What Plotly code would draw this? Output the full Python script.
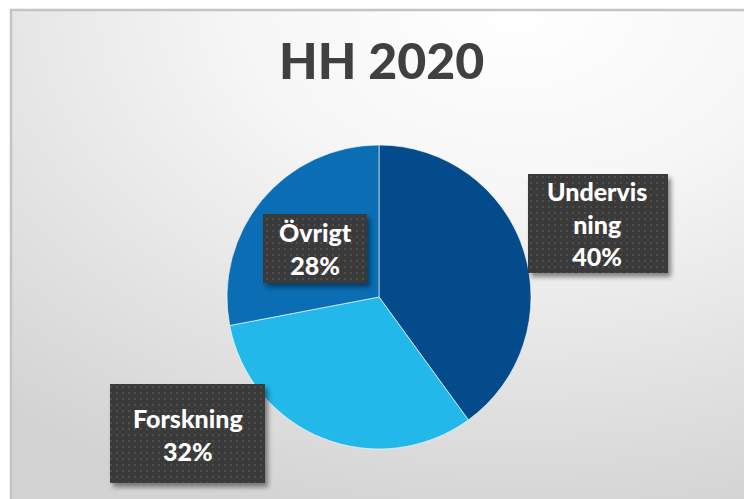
import base64
import plotly.graph_objects as go

# ---- data ----
categories = ["Undervisning", "Forskning", "Övrigt"]
shares = [40, 32, 28]
label_lines = [["Undervis", "ning", "40%"], ["Forskning", "32%"], ["Övrigt", "28%"]]
colors = ["#034b8a", "#22b8e9", "#0b6db4"]
title_text = "HH 2020"

W, H = 744, 499

# ---- background (gradient + frame) as SVG ----
bg_svg = f'''<svg xmlns="http://www.w3.org/2000/svg" width="{W}" height="{H}" viewBox="0 0 {W} {H}" preserveAspectRatio="none">
<defs>
<radialGradient id="g" cx="0.68" cy="0.0" r="1.05" fx="0.68" fy="0.0">
<stop offset="0" stop-color="#ffffff"/>
<stop offset="0.35" stop-color="#f6f6f6"/>
<stop offset="1" stop-color="#d3d3d3"/>
</radialGradient>
</defs>
<rect x="0" y="0" width="{W}" height="{H}" fill="#ffffff"/>
<rect x="11" y="10" width="{W}" height="{H}" fill="url(#g)" stroke="#c4c4c4" stroke-width="2.5"/>
</svg>'''

# label boxes (x0, y0, x1, y1) in pixels
boxes = [(528, 174, 668, 273), (110, 384, 265, 483), (263, 214, 367, 283)]

box_parts = []
for (x0, y0, x1, y1) in boxes:
    box_parts.append(
        f'<rect x="{x0+3}" y="{y0+4}" width="{x1-x0}" height="{y1-y0}" fill="#000" opacity="0.45" filter="url(#blur)"/>'
        f'<rect x="{x0}" y="{y0}" width="{x1-x0}" height="{y1-y0}" fill="url(#dots)"/>'
    )
box_svg = f'''<svg xmlns="http://www.w3.org/2000/svg" width="{W}" height="{H}" viewBox="0 0 {W} {H}" preserveAspectRatio="none">
<defs>
<filter id="blur" x="-20%" y="-20%" width="140%" height="140%"><feGaussianBlur stdDeviation="2.5"/></filter>
<pattern id="dots" x="0" y="0" width="6" height="6" patternUnits="userSpaceOnUse">
<rect width="6" height="6" fill="#3a3a3a"/>
<rect x="2" y="2" width="2" height="2" fill="#4e4e4e"/>
</pattern>
</defs>
{''.join(box_parts)}
</svg>'''


def uri(svg):
    return "data:image/svg+xml;base64," + base64.b64encode(svg.encode("utf-8")).decode("ascii")


fig = go.Figure(
    go.Pie(
        labels=categories,
        values=shares,
        sort=False,
        direction="clockwise",
        rotation=0,
        marker=dict(colors=colors, line=dict(color="rgba(255,255,255,0.6)", width=1)),
        textinfo="none",
        hoverinfo="label+percent",
        showlegend=False,
        domain=dict(x=[227 / W, 531 / W], y=[1 - 449 / H, 1 - 145 / H]),
    )
)

# label block centres (pixels)
label_pos = [(597, 223), (188, 434), (315, 249)]
annotations = []
for lines, (px, py) in zip(label_lines, label_pos):
    annotations.append(
        dict(
            text="<br>".join(lines),
            x=px / W,
            y=1 - py / H,
            xref="paper",
            yref="paper",
            xanchor="center",
            yanchor="middle",
            align="center",
            showarrow=False,
            font=dict(family="Lato", size=25, color="#ffffff", weight=900),
        )
    )

annotations.append(
    dict(
        text=title_text,
        x=381 / W,
        y=1 - 60 / H,
        xref="paper",
        yref="paper",
        xanchor="center",
        yanchor="middle",
        showarrow=False,
        font=dict(family="Lato", size=50, color="#404040", weight=900),
    )
)

fig.update_layout(
    width=W,
    height=H,
    margin=dict(l=0, r=0, t=0, b=0),
    paper_bgcolor="#ffffff",
    plot_bgcolor="rgba(0,0,0,0)",
    images=[
        dict(source=uri(bg_svg), xref="paper", yref="paper", x=0, y=1, sizex=1, sizey=1,
             xanchor="left", yanchor="top", sizing="stretch", layer="below"),
        dict(source=uri(box_svg), xref="paper", yref="paper", x=0, y=1, sizex=1, sizey=1,
             xanchor="left", yanchor="top", sizing="stretch", layer="above"),
    ],
    annotations=annotations,
)

fig.write_html(
    "out.html",
    config={"displayModeBar": False},
    post_script="document.body.style.margin='0';document.body.style.overflow='hidden';",
)
